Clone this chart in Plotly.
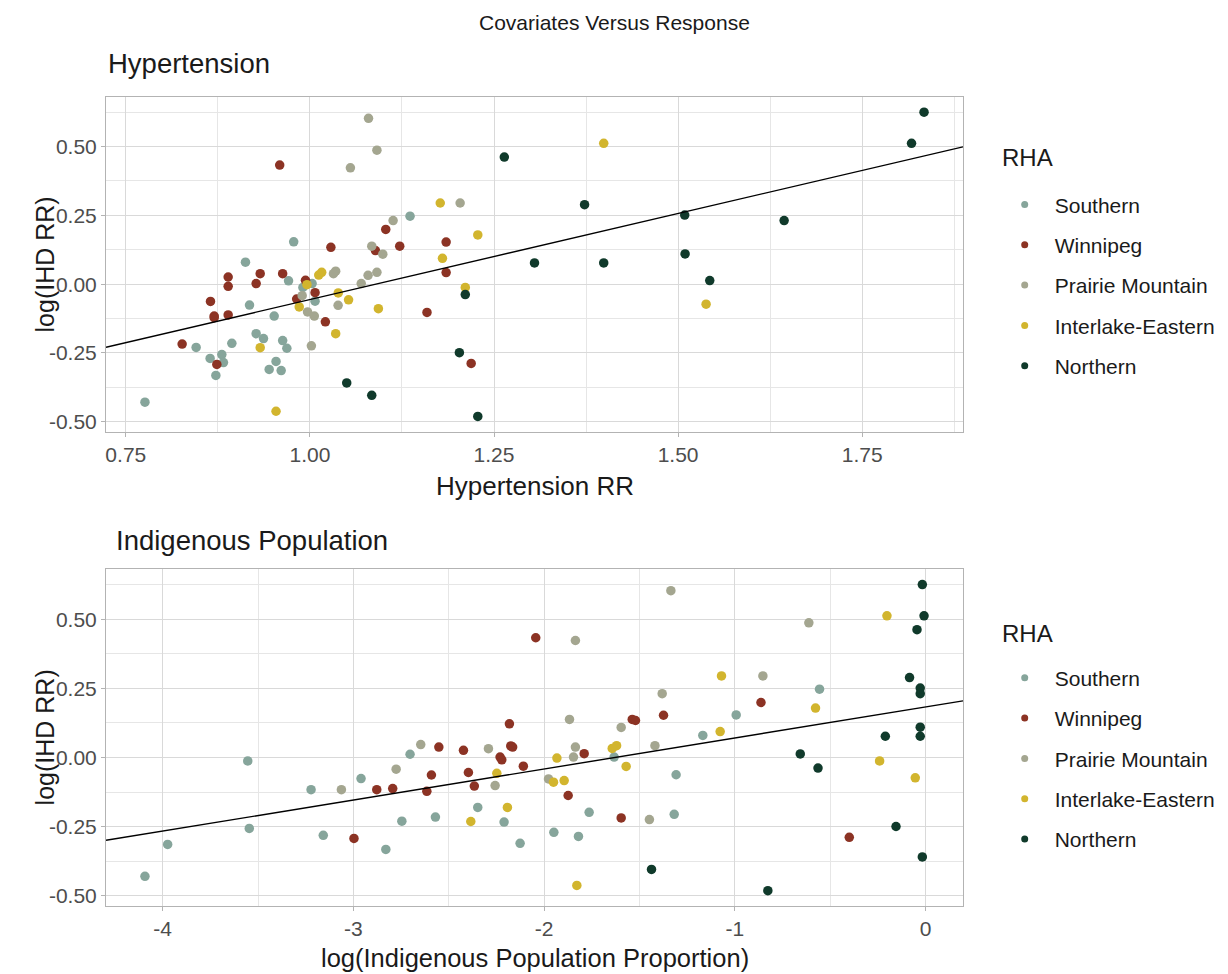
import numpy as np
import plotly.graph_objects as go

# Health-region (RHA) observations: hypertension RR, log indigenous proportion, log(IHD RR)
regions = ["Southern", "Winnipeg", "Prairie Mountain", "Interlake-Eastern", "Northern"]
colors = ["#86A59B", "#8C3324", "#A4A690", "#D2B52E", "#103A2B"]

southern_htn = [1.136, 0.978, 0.9125, 0.971, 1.003, 0.9905, 1.007, 0.918, 0.9515, 0.927, 0.937, 0.963,
                0.894, 0.8455, 0.9687, 0.8804, 0.8645, 0.954, 0.8826, 0.9447, 0.961, 0.8723, 0.776]
southern_ind = [-0.556, -0.993, -1.168, -2.703, -1.633, -3.554, -1.308, -2.96, -3.222, -2.348, -1.764, -1.318,
                -2.57, -2.746, -2.21, -3.546, -1.949, -3.158, -1.82, -2.126, -3.974, -2.83, -4.093]
southern_ihd = [0.247, 0.154, 0.080, 0.012, 0.002, -0.012, -0.062, -0.076, -0.116, -0.180, -0.198, -0.205,
                -0.215, -0.230, -0.233, -0.256, -0.270, -0.281, -0.285, -0.310, -0.314, -0.332, -0.429]

winnipeg_htn = [0.959, 1.103, 1.185, 1.122, 1.0285, 1.089, 1.185, 0.9325, 0.963, 0.889, 0.994, 0.927,
                0.889, 1.007, 0.982, 0.865, 1.159, 0.889, 0.87, 0.87, 1.021, 0.8265, 1.219, 0.8736]
winnipeg_ind = [-2.044, -0.863, -1.374, -1.538, -1.521, -2.182, -2.175, -2.552, -2.165, -2.423, -1.79, -2.231,
                -2.222, -2.109, -2.397, -2.591, -2.366, -2.794, -2.8775, -2.615, -1.874, -1.596, -0.4, -2.997]
winnipeg_ihd = [0.433, 0.199, 0.153, 0.138, 0.134, 0.122, 0.042, 0.038, 0.038, 0.026, 0.014, 0.002,
                -0.008, -0.031, -0.054, -0.063, -0.103, -0.112, -0.116, -0.122, -0.137, -0.218, -0.288, -0.292]

prairie_htn = [1.0796, 1.091, 1.055, 1.204, 1.113, 1.084, 1.099, 1.035, 1.091, 1.032, 1.079, 1.0697,
               0.9895, 1.0383, 0.9968, 1.006, 1.002]
prairie_ind = [-1.3355, -0.612, -1.836, -0.853, -1.381, -1.867, -1.596, -2.647, -1.419, -1.836, -2.292, -1.846,
               -2.776, -1.977, -2.257, -3.063, -1.448]
prairie_ihd = [0.603, 0.487, 0.423, 0.295, 0.231, 0.138, 0.109, 0.047, 0.043, 0.038, 0.032, 0.002,
               -0.042, -0.077, -0.101, -0.116, -0.224]

interlake_htn = [1.399, 1.177, 1.228, 1.18, 1.016, 1.012, 0.996, 1.211, 1.0385, 1.0525, 1.538, 0.9855,
                 1.093, 1.035, 0.9325, 0.954]
interlake_ind = [-0.2025, -1.07, -0.577, -1.077, -1.62, -1.643, -1.933, -0.241, -1.57, -2.248, -0.054, -1.895,
                 -1.951, -2.1925, -2.3845, -1.8285]
interlake_ihd = [0.512, 0.295, 0.179, 0.094, 0.043, 0.033, -0.002, -0.012, -0.032, -0.057, -0.073, -0.083,
                 -0.089, -0.180, -0.231, -0.462]

northern_htn = [1.834, 1.817, 1.264, 1.373, 1.509, 1.644, 1.5095, 1.305, 1.399, 1.543, 1.211, 1.203,
                1.050, 1.084, 1.228]
northern_ind = [-0.017, -0.008, -0.045, -0.084, -0.028, -0.028, -0.028, -0.211, -0.028, -0.657, -0.564, -0.155,
                -0.017, -1.437, -0.827]
northern_ihd = [0.625, 0.512, 0.462, 0.289, 0.251, 0.231, 0.110, 0.077, 0.077, 0.013, -0.038, -0.249,
                -0.359, -0.404, -0.481]

htn_by_region = [southern_htn, winnipeg_htn, prairie_htn, interlake_htn, northern_htn]
ind_by_region = [southern_ind, winnipeg_ind, prairie_ind, interlake_ind, northern_ind]
ihd_by_region = [southern_ihd, winnipeg_ihd, prairie_ihd, interlake_ihd, northern_ihd]

htn_ticks = [0.75, 1.00, 1.25, 1.50, 1.75]
htn_tick_text = ["0.75", "1.00", "1.25", "1.50", "1.75"]
ind_ticks = [-4, -3, -2, -1, 0]
ind_tick_text = ["-4", "-3", "-2", "-1", "0"]
ihd_ticks = [-0.50, -0.25, 0.00, 0.25, 0.50]
ihd_tick_text = ["-0.50", "-0.25", "0.00", "0.25", "0.50"]

FONT = "Liberation Sans, Arial, sans-serif"
TICK_COLOR = "#4D4D4D"
TEXT_COLOR = "#1A1A1A"

all_htn = np.concatenate(htn_by_region)
all_ind = np.concatenate(ind_by_region)
all_ihd = np.concatenate(ihd_by_region)


def padded(values, frac=0.05):
    lo, hi = float(np.min(values)), float(np.max(values))
    pad = (hi - lo) * frac
    return [lo - pad, hi + pad]


htn_range = padded(all_htn)
ind_range = padded(all_ind)
ihd_range = padded(all_ihd)

fig = go.Figure()

panels = [
    ("x", "y", htn_by_region, all_htn, htn_range, "legend"),
    ("x2", "y2", ind_by_region, all_ind, ind_range, "legend2"),
]
for xa, ya, xs_by_region, all_x, xr, leg in panels:
    for i, name in enumerate(regions):
        fig.add_trace(go.Scatter(
            x=xs_by_region[i], y=ihd_by_region[i], mode="markers", name=name,
            marker=dict(color=colors[i], size=9.5),
            xaxis=xa, yaxis=ya, showlegend=False,
        ))
        # small key dot for this panel's legend
        fig.add_trace(go.Scatter(
            x=[None], y=[None], mode="markers", name=name,
            marker=dict(color=colors[i], size=7),
            xaxis=xa, yaxis=ya, legend=leg, legendgroup=f"{leg}-{name}",
        ))
    # least-squares line drawn across the full panel width
    slope, intercept = np.polyfit(all_x, all_ihd, 1)
    line_x = np.array(xr)
    fig.add_trace(go.Scatter(
        x=line_x, y=intercept + slope * line_x, mode="lines",
        line=dict(color="black", width=1.4), showlegend=False, hoverinfo="skip",
        xaxis=xa, yaxis=ya,
    ))

axis_common = dict(
    showgrid=True, gridcolor="#D9D9D9", gridwidth=1,
    showline=True, linecolor="#B3B3B3", linewidth=1, mirror=True,
    ticks="outside", ticklen=4, tickcolor="#B3B3B3",
    tickfont=dict(family=FONT, size=21, color=TICK_COLOR),
    zeroline=False,
)
minor_grid = dict(showgrid=True, gridcolor="#E6E6E6", gridwidth=0.8)

legend_common = dict(
    xanchor="left", yanchor="top",
    font=dict(family=FONT, size=21, color=TEXT_COLOR),
    tracegroupgap=10, itemsizing="trace", itemwidth=50,
)

fig.update_layout(
    width=1228, height=974,
    margin=dict(l=106, r=265, t=97, b=68, autoexpand=False),
    plot_bgcolor="white", paper_bgcolor="white",
    font=dict(family=FONT, color=TEXT_COLOR),
    xaxis=dict(domain=[0, 1], anchor="y", range=htn_range, tickvals=htn_ticks, ticktext=htn_tick_text,
               minor=dict(dtick=0.125, tick0=0, **minor_grid), **axis_common),
    yaxis=dict(domain=[0.5863, 1], anchor="x", range=ihd_range, tickvals=ihd_ticks, ticktext=ihd_tick_text,
               minor=dict(dtick=0.125, tick0=0, **minor_grid), **axis_common),
    xaxis2=dict(domain=[0, 1], anchor="y2", range=ind_range, tickvals=ind_ticks, ticktext=ind_tick_text,
                minor=dict(dtick=0.5, tick0=0, **minor_grid), **axis_common),
    yaxis2=dict(domain=[0, 0.4162], anchor="x2", range=ihd_range, tickvals=ihd_ticks, ticktext=ihd_tick_text,
                minor=dict(dtick=0.125, tick0=0, **minor_grid), **axis_common),
    legend=dict(x=1.037, y=0.892, **legend_common),
    legend2=dict(x=1.037, y=0.307, **legend_common),
)

texts = [
    dict(text="Covariates Versus Response", x=0.5928, y=1.0927, xanchor="center", size=21),
    dict(text="Hypertension", x=0.0, y=1.041, xanchor="left", size=27.5),
    dict(text="Indigenous Population", x=0.009, y=0.4512, xanchor="left", size=27.5),
    dict(text="Hypertension RR", x=0.5, y=0.519, xanchor="center", size=26),
    dict(text="log(Indigenous Population Proportion)", x=0.5, y=-0.0643, xanchor="center", size=25.5),
    dict(text="RHA", x=1.0432, y=0.9246, xanchor="left", size=24),
    dict(text="RHA", x=1.0432, y=0.3374, xanchor="left", size=24),
]
for t in texts:
    fig.add_annotation(text=t["text"], x=t["x"], y=t["y"], xref="paper", yref="paper",
                       xanchor=t["xanchor"], yanchor="middle", showarrow=False,
                       font=dict(family=FONT, size=t["size"], color=TEXT_COLOR))
for ycen in [0.793, 0.2084]:
    fig.add_annotation(text="log(IHD RR)", x=-0.0712, y=ycen, xref="paper", yref="paper",
                       xanchor="center", yanchor="middle", textangle=-90, showarrow=False,
                       font=dict(family=FONT, size=25, color=TEXT_COLOR))

fig.write_html("out.html")
